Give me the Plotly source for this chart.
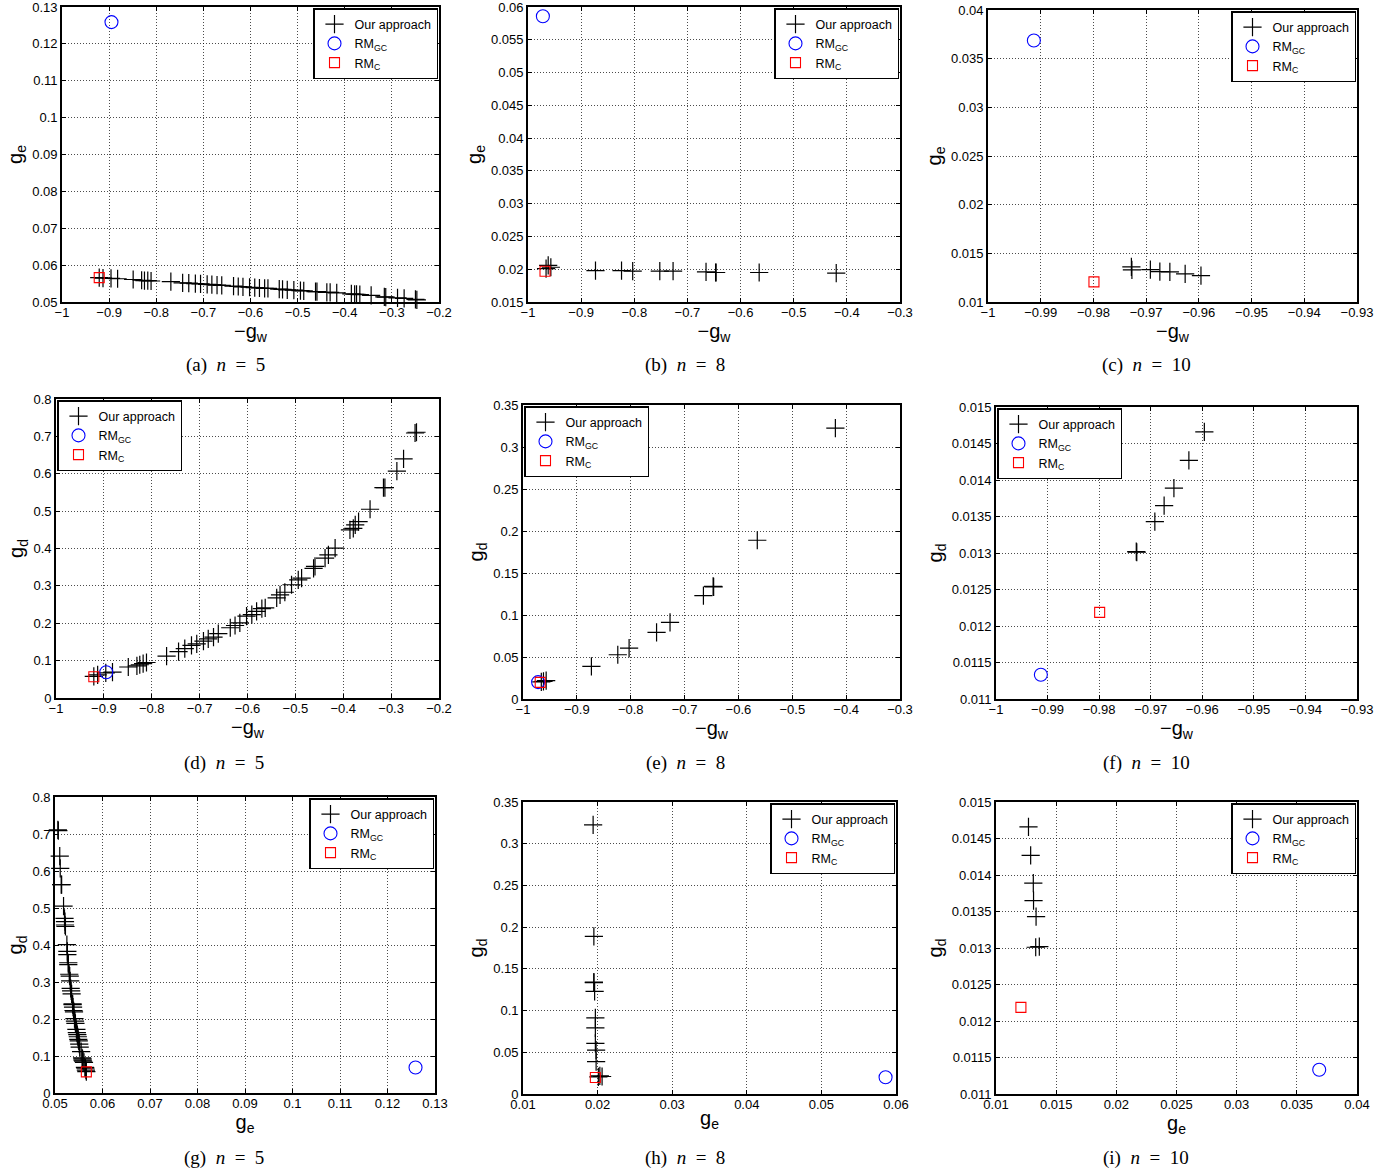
import plotly.graph_objects as go

# ---------------- data ----------------
# n = 5 : "Our approach" points (-g_w, g_e, g_d)
n5_neg_gw = [-0.921, -0.913, -0.896, -0.882, -0.849, -0.831, -0.825, -0.818, -0.811, -0.769,
             -0.744, -0.731, -0.717, -0.706, -0.692, -0.682, -0.671, -0.661, -0.636, -0.626,
             -0.616, -0.602, -0.591, -0.581, -0.570, -0.563, -0.539, -0.532, -0.522, -0.508,
             -0.494, -0.487, -0.462, -0.459, -0.438, -0.431, -0.417, -0.386, -0.379, -0.375,
             -0.368, -0.344, -0.316, -0.313, -0.288, -0.274, -0.250, -0.247]
n5_ge = [0.0566, 0.0565, 0.0564, 0.0563, 0.0561, 0.0559, 0.0558, 0.0558, 0.0557, 0.0555,
         0.0552, 0.0551, 0.0550, 0.0549, 0.0548, 0.0547, 0.0546, 0.0545, 0.0543, 0.0542,
         0.0541, 0.0540, 0.0539, 0.0538, 0.0537, 0.0537, 0.0535, 0.0534, 0.0533, 0.0532,
         0.0531, 0.0530, 0.0528, 0.0528, 0.0526, 0.0526, 0.0525, 0.0522, 0.0521, 0.0521,
         0.0520, 0.0518, 0.0514, 0.0513, 0.0511, 0.0510, 0.0507, 0.0506]
n5_gd = [0.058, 0.062, 0.067, 0.069, 0.083, 0.086, 0.089, 0.092, 0.095, 0.112,
         0.124, 0.132, 0.141, 0.145, 0.152, 0.158, 0.163, 0.172, 0.188, 0.194,
         0.201, 0.219, 0.223, 0.232, 0.239, 0.241, 0.268, 0.276, 0.283, 0.303,
         0.316, 0.321, 0.347, 0.352, 0.374, 0.383, 0.401, 0.450, 0.454, 0.463,
         0.472, 0.505, 0.563, 0.563, 0.607, 0.640, 0.709, 0.711]
n5_rmgc = {"neg_gw": -0.895, "ge": 0.1259, "gd": 0.069}
n5_rmc = {"neg_gw": -0.921, "ge": 0.0566, "gd": 0.057}

# n = 8
n8_neg_gw = [-0.966, -0.962, -0.957, -0.873, -0.824, -0.803, -0.752, -0.727, -0.665, -0.647, -0.646, -0.565, -0.420]
n8_ge = [0.0201, 0.0206, 0.0203, 0.0198, 0.0198, 0.0197, 0.0197, 0.0197, 0.0196, 0.0195, 0.0195, 0.0195, 0.0194]
n8_gd = [0.0205, 0.0210, 0.0218, 0.0388, 0.0527, 0.0606, 0.0793, 0.0912, 0.1230, 0.1340, 0.1335, 0.1890, 0.3225]
n8_rmgc = {"neg_gw": -0.972, "ge": 0.0586, "gd": 0.0201}
n8_rmc = {"neg_gw": -0.968, "ge": 0.0197, "gd": 0.0198}

# n = 10
n10_neg_gw = [-0.9728, -0.9727, -0.9692, -0.9674, -0.9655, -0.9626, -0.9596]
n10_ge = [0.01360, 0.01330, 0.01333, 0.01312, 0.01310, 0.01288, 0.01270]
n10_gd = [0.01302, 0.01301, 0.01343, 0.01365, 0.01389, 0.01427, 0.01466]
n10_rmgc = {"neg_gw": -0.9913, "ge": 0.03686, "gd": 0.011333}
n10_rmc = {"neg_gw": -0.9799, "ge": 0.01207, "gd": 0.012187}

datasets = {
    5: ({"neg_gw": n5_neg_gw, "ge": n5_ge, "gd": n5_gd}, n5_rmgc, n5_rmc),
    8: ({"neg_gw": n8_neg_gw, "ge": n8_ge, "gd": n8_gd}, n8_rmgc, n8_rmc),
    10: ({"neg_gw": n10_neg_gw, "ge": n10_ge, "gd": n10_gd}, n10_rmgc, n10_rmc),
}

axis_titles = {"neg_gw": "\u2212g<sub>w</sub>", "ge": "g<sub>e</sub>", "gd": "g<sub>d</sub>"}

# ---------------- layout helpers ----------------
W, H = 1396, 1173


def fx(p):
    return min(max(p / W, 0.0), 1.0)


def fy(p):
    return min(max(1 - p / H, 0.0), 1.0)


def padded(r):
    span = r[1] - r[0]
    return [r[0] - span * 1e-6, r[1] + span * 1e-6]


# panel: letter, n, xkey, ykey, plot box pixels (x0,x1,y0,y1), xrange, xdtick, yrange, ydtick, legend corner, caption center
panels = [
    ("a", 5, "neg_gw", "ge", (62, 439, 7, 302), (-1, -0.2), 0.1, (0.05, 0.13), 0.01, "right", (225, 365)),
    ("b", 8, "neg_gw", "ge", (528, 900, 7, 302), (-1, -0.3), 0.1, (0.015, 0.06), 0.005, "right", (685, 365)),
    ("c", 10, "neg_gw", "ge", (988, 1357, 10, 302), (-1, -0.93), 0.01, (0.01, 0.04), 0.005, "right", (1146, 365)),
    ("d", 5, "neg_gw", "gd", (56, 439, 399, 698), (-1, -0.2), 0.1, (0, 0.8), 0.1, "left", (224, 763)),
    ("e", 8, "neg_gw", "gd", (523, 900, 405, 699), (-1, -0.3), 0.1, (0, 0.35), 0.05, "left", (685, 763)),
    ("f", 10, "neg_gw", "gd", (996, 1357, 407, 699), (-1, -0.93), 0.01, (0.011, 0.015), 0.0005, "left", (1146, 763)),
    ("g", 5, "ge", "gd", (55, 435, 797, 1093), (0.05, 0.13), 0.01, (0, 0.8), 0.1, "right", (224, 1158)),
    ("h", 8, "ge", "gd", (523, 896, 802, 1094), (0.01, 0.06), 0.01, (0, 0.35), 0.05, "right", (685, 1158)),
    ("i", 10, "ge", "gd", (996, 1357, 802, 1094), (0.01, 0.04), 0.005, (0.011, 0.015), 0.0005, "right", (1146, 1158)),
]

fig = go.Figure()
layout = dict(
    width=W, height=H, margin=dict(l=0, r=0, t=0, b=0, autoexpand=False),
    paper_bgcolor="white", plot_bgcolor="white",
    font=dict(family="Liberation Sans, Arial, sans-serif", size=12, color="black"),
    showlegend=True, annotations=[],
)

NB = "\u00a0"

for k, (letter, n, xk, yk, box, xr, xd, yr, yd, corner, cap) in enumerate(panels, start=1):
    pts, rmgc, rmc = datasets[n]
    xa = "x" if k == 1 else f"x{k}"
    ya = "y" if k == 1 else f"y{k}"
    lg = "legend" if k == 1 else f"legend{k}"
    fig.add_trace(go.Scatter(
        x=pts[xk], y=pts[yk], mode="markers", name="Our approach",
        marker=dict(symbol="cross-thin", size=13, color="black", line=dict(color="black", width=1.2)),
        xaxis=xa, yaxis=ya, legend=lg, cliponaxis=False))
    fig.add_trace(go.Scatter(
        x=[rmgc[xk]], y=[rmgc[yk]], mode="markers", name="RM<sub>GC</sub>",
        marker=dict(symbol="circle-open", size=13, color="blue", line=dict(color="blue", width=1.1)),
        xaxis=xa, yaxis=ya, legend=lg, cliponaxis=False))
    fig.add_trace(go.Scatter(
        x=[rmc[xk]], y=[rmc[yk]], mode="markers", name="RM<sub>C</sub>",
        marker=dict(symbol="square-open", size=10, color="red", line=dict(color="red", width=1.1)),
        xaxis=xa, yaxis=ya, legend=lg, cliponaxis=False))

    x0, x1, y0, y1 = box
    axis_common = dict(
        showline=True, linecolor="black", linewidth=1.8, mirror="ticks",
        ticks="inside", ticklen=4, tickcolor="black", tickwidth=1,
        showgrid=True, gridcolor="rgba(0,0,0,0.7)", griddash="1px,2px", gridwidth=1,
        zeroline=False, automargin=False, ticklabeloverflow="allow",
        tickfont=dict(size=13, family="Liberation Sans, Arial, sans-serif"),
        title_font=dict(size=20, family="Liberation Sans, Arial, sans-serif"),
    )
    xkey = "xaxis" if k == 1 else f"xaxis{k}"
    ykey = "yaxis" if k == 1 else f"yaxis{k}"
    layout[xkey] = dict(axis_common, domain=[fx(x0), fx(x1)], range=padded(xr), tick0=xr[0], dtick=xd,
                        anchor=ya, ticklabelstandoff=-3, title=dict(text=axis_titles[xk], standoff=0))
    layout[ykey] = dict(axis_common, domain=[fy(y1), fy(y0)], range=padded(yr), tick0=yr[0], dtick=yd,
                        anchor=xa, title=dict(text=axis_titles[yk], standoff=4))

    if corner == "right":
        lx, xanc = fx(x1 - 1), "right"
    else:
        lx, xanc = fx(x0 + 1), "left"
    layout[lg] = dict(
        x=lx, y=fy(y0 + 1), xanchor=xanc, yanchor="top", xref="paper", yref="paper",
        bgcolor="white", bordercolor="black", borderwidth=1.5,
        font=dict(size=12.5, family="Liberation Sans, Arial, sans-serif"),
        tracegroupgap=0, itemwidth=30,
    )

    layout["annotations"].append(dict(
        x=fx(cap[0]), y=fy(cap[1]), xref="paper", yref="paper", showarrow=False,
        xanchor="center", yanchor="middle",
        text=f"({letter}){NB}{NB}<i>n</i>{NB}{NB}={NB}{NB}{n}",
        font=dict(size=19, family="Liberation Serif, Times New Roman, serif", color="black"),
    ))

fig.update_layout(**layout)
fig.write_html("out.html", config={"displayModeBar": False},
               post_script="document.body.style.margin='0';document.body.style.overflow='hidden';")
